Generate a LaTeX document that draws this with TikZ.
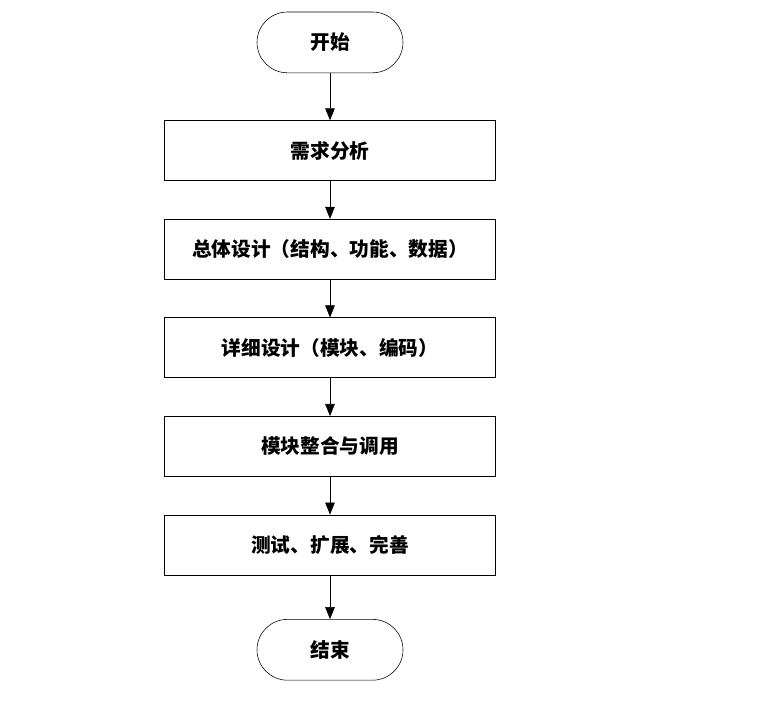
\documentclass[tikz,border=0pt]{standalone}
\usepackage{fontspec}
\setmainfont{Noto Sans CJK SC}
\usetikzlibrary{arrows.meta,positioning}

\begin{document}
\begin{tikzpicture}[node distance=0.95cm, auto]
\tikzset{
    endnode/.style={rectangle,rounded corners=0.76cm,draw=black, thin, minimum width=3.65cm, minimum height=1.52cm, text centered, font=\fontsize{14pt}{16pt}\selectfont\bfseries},
    stepnode/.style={rectangle,draw=black, thin, minimum width=8.27cm, minimum height=1.5cm, text centered, font=\fontsize{14pt}{16pt}\selectfont\bfseries},
    myarrow/.style={-{Triangle[length=3mm,width=2.4mm]}, thin}
}
\useasboundingbox (0,0) rectangle (18.975,-17.625);
\node[endnode] (start) at (8.25,-1.06) {开始};
\node[stepnode, below=1.18cm of start] (analysis) {需求分析};
\node[stepnode, below=of analysis] (overall) {总体设计（结构、功能、数据）};
\node[stepnode, below=of overall] (detail) {详细设计（模块、编码）};
\node[stepnode, below=of detail] (integrate) {模块整合与调用};
\node[stepnode, below=of integrate] (test) {测试、扩展、完善};
\node[endnode, below=1.1cm of test] (finish) {结束};

\draw[myarrow] (start) -- (analysis);
\draw[myarrow] (analysis) -- (overall);
\draw[myarrow] (overall) -- (detail);
\draw[myarrow] (detail) -- (integrate);
\draw[myarrow] (integrate) -- (test);
\draw[myarrow] (test) -- (finish);
\end{tikzpicture}
\end{document}
